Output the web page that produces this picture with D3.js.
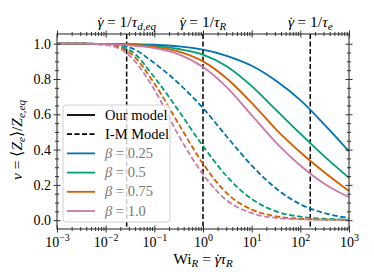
<!DOCTYPE html>
<html>
<head>
<meta charset="utf-8">
<script src="https://cdn.jsdelivr.net/npm/d3@7"></script>
<style>
  body { margin: 0; background: #fff; }
  text { font-family: "DejaVu Serif", serif; }
</style>
</head>
<body>
<div id="chart"></div>
<script>
// log10(Wi_R) sample points
const logWi = [-3, -2.5, -2, -1.5, -1, -0.5, 0, 0.5, 1, 1.5, 2, 2.5, 3];

// our model (solid)
const oursB025 = [1, 1, 0.999, 0.998, 0.994, 0.985, 0.966, 0.93, 0.875, 0.79, 0.68, 0.54, 0.39];
const oursB050 = [1, 1, 0.998, 0.996, 0.988, 0.97, 0.938, 0.87, 0.76, 0.625, 0.49, 0.36, 0.24];
const oursB075 = [1, 1, 0.998, 0.994, 0.982, 0.955, 0.90, 0.80, 0.665, 0.515, 0.385, 0.27, 0.165];
const oursB100 = [1, 1, 0.997, 0.991, 0.975, 0.94, 0.868, 0.75, 0.595, 0.44, 0.31, 0.205, 0.13];

// I-M model (dashed)
const imB025 = [1, 1, 0.998, 0.978, 0.89, 0.775, 0.635, 0.47, 0.31, 0.18, 0.09, 0.04, 0.012];
const imB050 = [1, 1, 0.997, 0.962, 0.81, 0.62, 0.42, 0.245, 0.12, 0.05, 0.02, 0.008, 0.003];
const imB075 = [1, 1, 0.995, 0.948, 0.775, 0.545, 0.32, 0.15, 0.06, 0.022, 0.008, 0.003, 0.001];
const imB100 = [1, 1, 0.993, 0.93, 0.74, 0.48, 0.26, 0.11, 0.04, 0.013, 0.005, 0.002, 0.001];

const betaLabels = ["0.25", "0.5", "0.75", "1.0"];
const colors = ["#0072B2", "#009E73", "#D55E00", "#CC79A7"];

// characteristic rates: 1/tau_d,eq, 1/tau_R, 1/tau_e
const rateLines = [0.027, 1, 160];

const width = 374, height = 280;
const margin = {top: 34, right: 25, bottom: 51, left: 57};
const serif = "'Liberation Serif', 'Times New Roman', serif";

const svg = d3.select("#chart").append("svg")
    .attr("width", width)
    .attr("height", height);

const x = d3.scaleLog().domain([1e-3, 1e3]).range([margin.left, width - margin.right]);
const y = d3.scaleLinear().domain([-0.05, 1.055]).range([height - margin.bottom, margin.top]);

const line = d3.line()
    .x(d => x(Math.pow(10, d[0])))
    .y(d => y(d[1]))
    .curve(d3.curveMonotoneX);

const plot = svg.append("g");

// vertical rate lines
plot.selectAll(".rate")
    .data(rateLines)
    .enter().append("line")
    .attr("x1", d => x(d)).attr("x2", d => x(d))
    .attr("y1", margin.top).attr("y2", height - margin.bottom)
    .attr("stroke", "#000")
    .attr("stroke-width", 1.5)
    .attr("stroke-dasharray", "5,2.5");

const solid = [oursB025, oursB050, oursB075, oursB100];
const dashed = [imB025, imB050, imB075, imB100];

dashed.forEach((vals, i) => {
    plot.append("path")
        .attr("d", line(logWi.map((l, j) => [l, vals[j]])))
        .attr("fill", "none")
        .attr("stroke", colors[i])
        .attr("stroke-width", 1.8)
        .attr("stroke-dasharray", "5.5,2.6");
});
solid.forEach((vals, i) => {
    plot.append("path")
        .attr("d", line(logWi.map((l, j) => [l, vals[j]])))
        .attr("fill", "none")
        .attr("stroke", colors[i])
        .attr("stroke-width", 1.8);
});

// axes
const majorX = [1e-3, 1e-2, 1e-1, 1, 1e1, 1e2, 1e3];
const minorX = [];
for (let e = -3; e < 3; e++) for (let k = 2; k <= 9; k++) minorX.push(k * Math.pow(10, e));
const majorY = [0, 0.2, 0.4, 0.6, 0.8, 1.0];
const minorY = d3.range(0, 21).map(i => i * 0.05).filter(v => Math.round(v * 100) % 20 !== 0);

const axisColor = "#333";

function inout(g, len, vertical) {
    g.attr("font-family", serif).attr("font-size", null);
    g.selectAll(".tick line")
        .attr(vertical ? "x1" : "y1", -len)
        .attr(vertical ? "x2" : "y2", len)
        .attr("stroke", axisColor);
    g.select(".domain").remove();
}

function drawX(yPos, labels) {
    const gMinor = svg.append("g")
        .attr("transform", `translate(0,${yPos})`)
        .call(d3.axisBottom(x).tickValues(minorX).tickFormat("").tickSize(2));
    inout(gMinor, 2, false);
    const gMajor = svg.append("g")
        .attr("transform", `translate(0,${yPos})`)
        .call(d3.axisBottom(x).tickValues(majorX).tickSize(3.5).tickPadding(0));
    inout(gMajor, 3.5, false);
    gMajor.selectAll(".tick text").remove();
    if (labels) {
        gMajor.selectAll(".tick").append("text")
            .attr("y", 18)
            .attr("text-anchor", "middle")
            .attr("fill", "#000")
            .style("font-family", serif)
            .style("font-size", "14px")
            .each(function(d) {
                const t = d3.select(this);
                t.append("tspan").text("10");
                t.append("tspan").attr("dy", -6).style("font-size", "10px")
                    .text(String(Math.round(Math.log10(d))).replace("-", "\u2212"));
            });
    }
}

function drawY(xPos, labels) {
    const gMinor = svg.append("g")
        .attr("transform", `translate(${xPos},0)`)
        .call(d3.axisLeft(y).tickValues(minorY).tickFormat("").tickSize(2));
    inout(gMinor, 2, true);
    const gMajor = svg.append("g")
        .attr("transform", `translate(${xPos},0)`)
        .call(d3.axisLeft(y).tickValues(majorY).tickSize(3.5).tickFormat(d3.format(".1f")));
    inout(gMajor, 3.5, true);
    gMajor.selectAll(".tick text")
        .attr("x", -6)
        .attr("fill", "#000")
        .style("font-family", serif)
        .style("font-size", "14px");
    if (!labels) gMajor.selectAll(".tick text").remove();
}

drawX(height - margin.bottom, true);
drawX(margin.top, false);
drawY(margin.left, true);
drawY(width - margin.right, false);

svg.append("rect")
    .attr("x", margin.left).attr("y", margin.top)
    .attr("width", width - margin.left - margin.right)
    .attr("height", height - margin.top - margin.bottom)
    .attr("fill", "none")
    .attr("stroke", axisColor)
    .attr("stroke-width", 1.1);

// legend
const legend = svg.append("g").attr("transform", "translate(63,105)");
legend.append("rect")
    .attr("width", 107).attr("height", 117)
    .attr("rx", 3)
    .attr("fill", "rgba(255,255,255,0.8)")
    .attr("stroke", "#d0d0d0");

const legendItems = [
    {label: "Our model", color: "#000", dash: null, text: "#000"},
    {label: "I-M Model", color: "#000", dash: "5,2.5", text: "#000"}
].concat(betaLabels.map((b, i) => ({beta: b, color: colors[i], dash: null, text: "#777"})));

const item = legend.selectAll(".item")
    .data(legendItems)
    .enter().append("g")
    .attr("transform", (d, i) => `translate(0,${10 + i * 19.2})`);

item.append("line")
    .attr("x1", 4).attr("x2", 32)
    .attr("stroke", d => d.color)
    .attr("stroke-width", 1.8)
    .attr("stroke-dasharray", d => d.dash);

item.append("text")
    .attr("x", 42).attr("y", 4.5)
    .attr("fill", d => d.text)
    .style("font-family", serif)
    .style("font-size", "14.5px")
    .each(function(d) {
        const t = d3.select(this);
        if (d.beta) {
            t.append("tspan").style("font-style", "italic").text("β");
            t.append("tspan").text(" = " + d.beta);
        } else {
            t.text(d.label);
        }
    });

// gamma with a dot on top
function gammaDot(t, size) {
    t.append("tspan").style("font-style", "italic").text("\u03B3");
    t.append("tspan").attr("dx", -size * 0.36).text("\u02D9");
    t.append("tspan").attr("dx", size * 0.05).text("");
}

// top annotations
const topLabels = [
    {at: rateLines[0], sub: "d,eq"},
    {at: rateLines[1], sub: "R"},
    {at: rateLines[2], sub: "e"}
];
svg.selectAll(".toplab")
    .data(topLabels)
    .enter().append("text")
    .attr("x", d => x(d.at))
    .attr("y", 27)
    .attr("text-anchor", "middle")
    .style("font-family", serif)
    .style("font-size", "15.5px")
    .each(function(d) {
        const t = d3.select(this);
        gammaDot(t, 15.5);
        t.append("tspan").text(" = 1/");
        t.append("tspan").style("font-style", "italic").text("\u03C4");
        t.append("tspan").attr("dy", 3).style("font-size", "11px").style("font-style", "italic").text(d.sub);
    });

// x label
const xl = svg.append("text")
    .attr("x", (margin.left + width - margin.right) / 2)
    .attr("y", 264)
    .attr("text-anchor", "middle")
    .style("font-family", serif)
    .style("font-size", "15.5px");
xl.append("tspan").text("Wi");
xl.append("tspan").attr("dy", 3).style("font-size", "11px").style("font-style", "italic").text("R");
xl.append("tspan").attr("dy", -3).text(" = ");
gammaDot(xl, 15.5);
xl.append("tspan").style("font-style", "italic").text("\u03C4");
xl.append("tspan").attr("dy", 3).style("font-size", "11px").style("font-style", "italic").text("R");

// y label
const yl = svg.append("text")
    .attr("transform", "translate(22,140) rotate(-90)")
    .attr("text-anchor", "middle")
    .style("font-family", serif)
    .style("font-size", "15.5px");
yl.append("tspan").style("font-style", "italic").text("\u03BD");
yl.append("tspan").text(" = \u27E8");
yl.append("tspan").style("font-style", "italic").text("Z");
yl.append("tspan").attr("dy", 3).style("font-size", "11px").style("font-style", "italic").text("e");
yl.append("tspan").attr("dy", -3).text("\u27E9/");
yl.append("tspan").style("font-style", "italic").text("Z");
yl.append("tspan").attr("dy", 3).style("font-size", "11px").style("font-style", "italic").text("e,eq");
</script>
</body>
</html>
